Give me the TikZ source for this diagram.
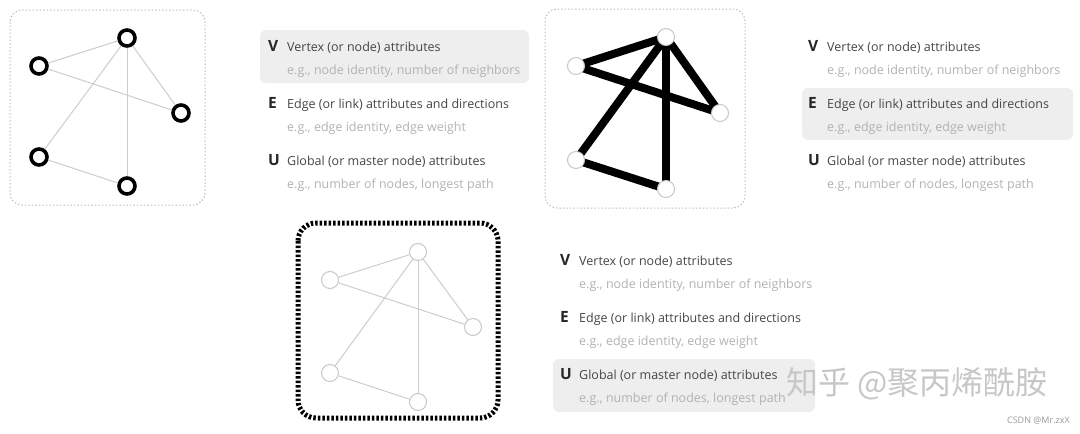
\documentclass[tikz,border=0pt]{standalone}
\usepackage{fontspec}
\usepackage{xcolor}
\setmainfont{Open Sans}
\newfontfamily\cjkfont{Noto Sans CJK SC}
\usetikzlibrary{backgrounds}
\definecolor{hlgray}{HTML}{EEEEEE}
\definecolor{subgray}{HTML}{B2B2B2}
\definecolor{titlegray}{HTML}{454545}

\begin{document}
\begin{tikzpicture}[x=1pt,y=-1pt,
    ring/.style={circle,draw=black,line width=3.6pt,minimum size=16pt,inner sep=0pt},
    hollow/.style={circle,draw=black!22,fill=white,line width=1pt,minimum size=17pt,inner sep=0pt},
    thinedge/.style={draw=black!20,line width=1pt},
    fatedge/.style={draw=black,line width=8pt},
    softframe/.style={draw=black!25,line width=1pt,dash pattern=on 1.5pt off 2pt,rounded corners=12pt},
    heavyframe/.style={draw=black,line width=5pt,dash pattern=on 2.5pt off 2pt,rounded corners=18pt},
    letter/.style={anchor=base west,inner sep=0pt,font=\bfseries\fontsize{15.5}{16}\selectfont,text=black!85},
    title/.style={anchor=base west,inner sep=0pt,font=\fontsize{12.5}{14}\selectfont,text=titlegray},
    sub/.style={anchor=base west,inner sep=0pt,font=\fontsize{12.5}{14}\selectfont,text=subgray},
    hlbox/.style={fill=hlgray,rounded corners=6pt}]
    \useasboundingbox (0,0) rectangle (1080,434);
    % frames and highlights
    \draw[softframe] (10,10) rectangle (205,205);
    \draw[softframe] (545,9) rectangle (745,208);
    \draw[heavyframe] (298,223) rectangle (498,418);
    \fill[hlbox] (260,30) rectangle (529,83);
    \fill[hlbox] (802,88) rectangle (1073,140);
    \fill[hlbox] (553,359) rectangle (815,412);
    % graph with node attributes
    \foreach \n/\x/\y in {top/127/38,up/39/66,right/181/113,low/39/157,bot/127/186}{
      \node[ring] (g1\n) at (\x,\y) {};
    }
    \foreach \s/\t in {top/up,top/right,top/low,top/bot,up/right,low/bot}{
      \draw[thinedge] (g1\s) -- (g1\t);
    }
    % graph with edge attributes
    \foreach \n/\x/\y in {top/666/37,up/576/66,right/720/113,low/576/160,bot/666/189}{
      \node[hollow] (g2\n) at (\x,\y) {};
    }
    \begin{scope}[on background layer]
      \foreach \s/\t in {top/up,top/right,top/low,top/bot,up/right,low/bot}{
        \draw[fatedge] (g2\s.center) -- (g2\t.center);
      }
    \end{scope}
    % graph with global attributes
    \foreach \n/\x/\y in {top/418/252,up/330/280,right/473/327,low/330/373,bot/418/402}{
      \node[hollow] (g3\n) at (\x,\y) {};
    }
    \foreach \s/\t in {top/up,top/right,top/low,top/bot,up/right,low/bot}{
      \draw[thinedge] (g3\s) -- (g3\t);
    }
    % legends
    \foreach \k/\bx/\by in {a/268/51,b/808/51,c/560/265}{
      \foreach \L/\T/\S [count=\j from 0] in {V/{Vertex (or node) attributes}/{e.g., node identity, number of neighbors},E/{Edge (or link) attributes and directions}/{e.g., edge identity, edge weight},U/{Global (or master node) attributes}/{e.g., number of nodes, longest path}}{
        \node[letter] (\k\L) at (\bx,\by+57*\j) {\L};
        \node[title] (\k\L-t) at (\bx+19,\by+57*\j) {\T};
        \node[sub] (\k\L-s) at (\bx+19,\by+57*\j+23) {\S};
      }
    }
    \node[anchor=west,inner sep=0pt,font=\cjkfont\fontsize{32}{32}\selectfont,text=black!22] (mark) at (786,384) {知乎 @聚丙烯酰胺};
    \node[anchor=east,inner sep=0pt,font=\fontsize{9}{10}\selectfont,text=black!40] (csdn) at (1070,421) {CSDN @Mr.zxX};
  \end{tikzpicture}
\end{document}
